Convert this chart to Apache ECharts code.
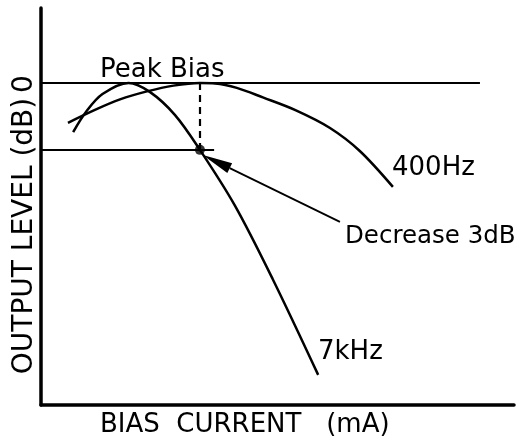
<!DOCTYPE html>
<html>
<head>
<meta charset="utf-8">
<script src="https://cdn.jsdelivr.net/npm/echarts@6/dist/echarts.min.js"></script>
<style>
  html, body { margin: 0; padding: 0; background: #fff; }
  #chart { width: 526px; height: 443px; }
</style>
</head>
<body>
<div id="chart"></div>
<script>
// Bias current (arbitrary mA units) vs. relative output level (dB)
const curve400Hz = [
  [0.57, -1.79], [1.14, -1.21], [1.67, -0.74], [2.24, -0.38], [2.80, -0.12],
  [3.36, 0.00], [3.68, -0.02], [4.14, -0.22], [4.69, -0.65], [5.39, -1.23],
  [6.11, -2.02], [6.74, -3.05], [7.44, -4.66]
];
const curve7kHz = [
  [0.68, -2.20], [0.95, -1.30], [1.30, -0.50], [1.85, 0.00], [2.30, -0.40],
  [2.83, -1.43], [3.36, -3.00], [4.10, -5.50], [4.90, -8.80], [5.86, -13.09]
];
const peakBias = 3.36;       // bias at which 400Hz output peaks
const dropLevel = -3;        // 7kHz level at the peak bias
const zeroRefEnd = 9.28;     // extent of the 0 dB reference line
const dropRefEnd = 3.66;     // extent of the -3 dB reference line
const arrowFrom = [6.32, -6.23];
const arrowTo = [3.42, -3.23];

const seriesNames = ['400Hz', '7kHz'];
const labels = {
  peak: 'Peak Bias',
  drop: 'Decrease 3dB',
  xTitle: 'BIAS  CURRENT   (mA)',
  yTitle: 'OUTPUT LEVEL (dB)',
  zero: '0'
};

const FONT = '26px "DejaVu Sans"';
const INK = '#000';

const chart = echarts.init(document.getElementById('chart'), null, { renderer: 'canvas' });

function txt(text, x, y, opts) {
  opts = opts || {};
  return {
    type: 'text', x: x, y: y, rotation: opts.rotation || 0,
    style: {
      text: text, font: opts.font || FONT, fill: INK,
      align: opts.align || 'left', verticalAlign: 'middle',
      textAlign: opts.align || 'left', textVerticalAlign: 'middle'
    }
  };
}

// Arrow with a slender filled head, placed through the axes' scales
function renderArrow(params, api) {
  const p0 = api.coord([api.value(0), api.value(1)]);
  const p1 = api.coord([api.value(2), api.value(3)]);
  const dx = p1[0] - p0[0], dy = p1[1] - p0[1];
  const len = Math.sqrt(dx * dx + dy * dy);
  const ux = dx / len, uy = dy / len;
  const headLen = 30, halfW = 5.5;
  const bx = p1[0] - ux * headLen, by = p1[1] - uy * headLen;
  return {
    type: 'group',
    children: [
      {
        type: 'line',
        shape: { x1: p0[0], y1: p0[1], x2: bx, y2: by },
        style: { stroke: INK, lineWidth: 1.8 }
      },
      {
        type: 'polygon',
        shape: { points: [
          [p1[0], p1[1]],
          [bx - uy * halfW, by + ux * halfW],
          [bx + uy * halfW, by - ux * halfW]
        ] },
        style: { fill: INK }
      }
    ]
  };
}

chart.setOption({
  animation: false,
  backgroundColor: '#fff',
  grid: { left: 41, right: 12, top: 8, bottom: 38 },
  xAxis: {
    type: 'value', min: 0, max: 10,
    axisLine: { show: true, onZero: false, lineStyle: { color: INK, width: 3.5 } },
    axisTick: { show: false }, axisLabel: { show: false }, splitLine: { show: false }
  },
  yAxis: {
    type: 'value', min: -14.44, max: 3.36,
    axisLine: { show: true, onZero: false, lineStyle: { color: INK, width: 3.5 } },
    axisTick: { show: false }, axisLabel: { show: false }, splitLine: { show: false }
  },
  series: [
    {
      name: seriesNames[0], type: 'line', data: curve400Hz, smooth: 0.33,
      showSymbol: false, lineStyle: { color: INK, width: 2.5 }, z: 3
    },
    {
      name: seriesNames[1], type: 'line', data: curve7kHz, smooth: 0.33,
      showSymbol: false, lineStyle: { color: INK, width: 2.5 }, z: 3
    },
    {
      // 0 dB and -3 dB reference lines, and the peak-bias drop line
      type: 'line', data: [], silent: true,
      markLine: {
        silent: true, symbol: ['none', 'none'], label: { show: false },
        data: [
          [{ coord: [0, 0], lineStyle: { color: INK, width: 2, type: 'solid' } }, { coord: [zeroRefEnd, 0] }],
          [{ coord: [0, dropLevel], lineStyle: { color: INK, width: 1.8, type: 'solid' } }, { coord: [dropRefEnd, dropLevel] }],
          [{ coord: [peakBias, 0], lineStyle: { color: INK, width: 2.2, type: [7, 5] } }, { coord: [peakBias, dropLevel] }]
        ]
      }
    },
    {
      type: 'custom', renderItem: renderArrow, silent: true, z: 4,
      data: [[arrowFrom[0], arrowFrom[1], arrowTo[0], arrowTo[1]]]
    },
    {
      type: 'scatter', data: [[peakBias, dropLevel]], symbolSize: 10,
      itemStyle: { color: INK }, z: 4
    }
  ],
  graphic: [
    txt(labels.peak, 100, 70),
    txt(seriesNames[0], 392, 168),
    txt(labels.drop, 345, 237, { font: '24.5px "DejaVu Sans"' }),
    txt(seriesNames[1], 318, 352),
    txt(labels.xTitle, 100, 425),
    txt(labels.yTitle, 25, 236, { rotation: Math.PI / 2, align: 'center', font: '28px "DejaVu Sans"' }),
    txt(labels.zero, 25, 84, { rotation: Math.PI / 2, align: 'center', font: '28px "DejaVu Sans"' })
  ]
});
</script>
</body>
</html>
